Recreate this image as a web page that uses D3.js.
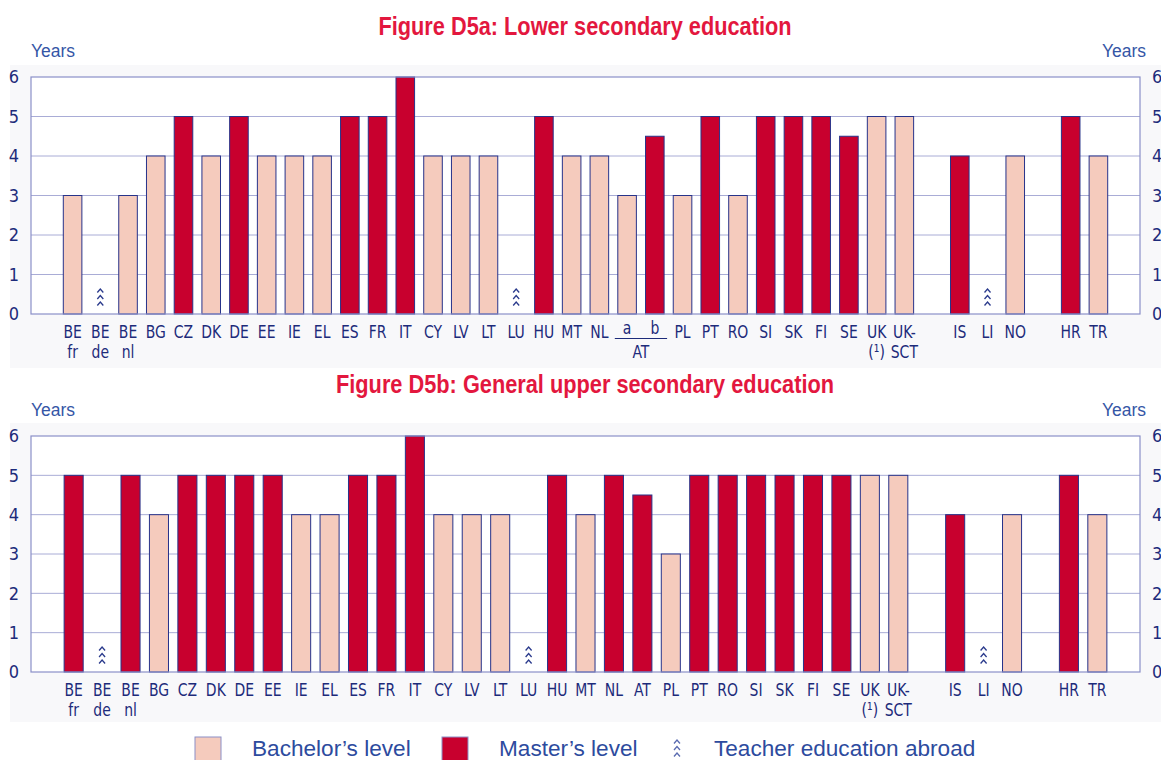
<!DOCTYPE html>
<html>
<head>
<meta charset="utf-8">
<script src="https://cdn.jsdelivr.net/npm/d3@7"></script>
<style>
  html, body { margin: 0; padding: 0; background: #ffffff; }
  svg { display: block; }
</style>
</head>
<body>
<svg id="chart" width="1161" height="760"></svg>
<script>
// ---- Data -------------------------------------------------------------
// Labels: "|" splits a label into two lines; "" marks an empty spacer slot.
// Level codes: B = Bachelor's level, M = Master's level, X = teacher education abroad.

const categoriesLower = ["BE|fr","BE|de","BE|nl","BG","CZ","DK","DE","EE","IE","EL","ES","FR","IT",
  "CY","LV","LT","LU","HU","MT","NL","a","b","PL","PT","RO","SI","SK","FI","SE","UK|(¹)","UK-|SCT",
  "","IS","LI","NO","","HR","TR"];
const yearsLower = [3,null,3,4,5,4,5,4,4,4,5,5,6,
  4,4,4,null,5,4,4,3,4.5,3,5,3,5,5,5,4.5,5,5,
  null,4,null,4,null,5,4];
const levelLower = ["B","X","B","B","M","B","M","B","B","B","M","M","M",
  "B","B","B","X","M","B","B","B","M","B","M","B","M","M","M","M","B","B",
  "","M","X","B","","M","B"];

const categoriesUpper = ["BE|fr","BE|de","BE|nl","BG","CZ","DK","DE","EE","IE","EL","ES","FR","IT",
  "CY","LV","LT","LU","HU","MT","NL","AT","PL","PT","RO","SI","SK","FI","SE","UK|(¹)","UK-|SCT",
  "","IS","LI","NO","","HR","TR"];
const yearsUpper = [5,null,5,4,5,5,5,5,4,4,5,5,6,
  4,4,4,null,5,4,5,4.5,3,5,5,5,5,5,5,5,5,
  null,4,null,4,null,5,4];
const levelUpper = ["M","X","M","B","M","M","M","M","B","B","M","M","M",
  "B","B","B","X","M","B","M","M","B","M","M","M","M","M","M","B","B",
  "","M","X","B","","M","B"];

const yTicks = [0,1,2,3,4,5,6];
const titles = ["Figure D5a: Lower secondary education", "Figure D5b: General upper secondary education"];
const legendItems = [
  {key: "B", label: "Bachelor\u2019s level"},
  {key: "M", label: "Master\u2019s level"},
  {key: "X", label: "Teacher education abroad"}
];

// ---- Style ------------------------------------------------------------
const colour = { B: "#f5cbbd", M: "#c8002e" };
const barStroke = "#27338a";
const frameStroke = "#8b90c8";
const gridStroke = "#a9acd6";
const labelFill = "#1d2b7a";
const yearsFill = "#3556a6";
const titleFill = "#e3173e";
const condensed = "'DejaVu Sans Condensed', 'DejaVu Sans', sans-serif";
const sans = "'Liberation Sans', Arial, sans-serif";
const squeeze = 0.84;   // horizontal compression for the narrow label face

const svg = d3.select("#chart");

// Three stacked carets marking teacher education abroad
function chevrons(g, cx, top, col) {
  for (let k = 0; k < 3; k++) {
    const y = top + k * 6.5;
    g.append("path")
      .attr("d", `M${cx - 3},${y + 3.5} L${cx},${y} L${cx + 3},${y + 3.5}`)
      .attr("fill", "none")
      .attr("stroke", col)
      .attr("stroke-width", 1.3);
  }
}

function narrowText(parent, cx, y, str) {
  return parent.append("text")
    .attr("transform", `translate(${cx},${y}) scale(${squeeze},1)`)
    .text(str);
}

function drawPanel(cfg) {
  const {categories, years, levels, title, titleWidth, plotTop, plotBottom, panelTop, panelBottom, titleY} = cfg;
  const left = 31, right = 1140;
  const g = svg.append("g");

  // light backdrop behind each figure
  g.append("rect")
    .attr("x", 10).attr("y", panelTop)
    .attr("width", 1151).attr("height", panelBottom - panelTop)
    .attr("fill", "#f8f8fa");

  g.append("text")
    .attr("x", 585 - titleWidth / 2).attr("y", titleY)
    .attr("font-family", sans)
    .attr("font-weight", "bold")
    .attr("font-size", 25)
    .attr("textLength", titleWidth)
    .attr("lengthAdjust", "spacingAndGlyphs")
    .attr("fill", titleFill)
    .text(title);

  const keys = d3.range(-1, categories.length + 1);
  const x = d3.scaleBand().domain(keys).range([left, right])
    .paddingInner(0.33).paddingOuter(0.165);
  const y = d3.scaleLinear().domain([0, 6]).range([plotBottom, plotTop]);

  g.append("rect")
    .attr("x", left).attr("y", plotTop)
    .attr("width", right - left).attr("height", plotBottom - plotTop)
    .attr("fill", "#ffffff");

  // horizontal gridlines
  g.append("g").selectAll("line")
    .data(yTicks.filter(t => t > 0 && t < 6))
    .join("line")
    .attr("x1", left).attr("x2", right)
    .attr("y1", d => y(d)).attr("y2", d => y(d))
    .attr("stroke", gridStroke).attr("stroke-width", 1);

  // bars
  const idx = d3.range(categories.length).filter(i => years[i] != null);
  g.append("g").selectAll("rect")
    .data(idx)
    .join("rect")
    .attr("x", i => x(i))
    .attr("width", x.bandwidth())
    .attr("y", i => y(years[i]))
    .attr("height", i => y(0) - y(years[i]))
    .attr("fill", i => colour[levels[i]])
    .attr("stroke", barStroke)
    .attr("stroke-width", 1);

  // abroad markers
  d3.range(categories.length).filter(i => levels[i] === "X").forEach(i => {
    chevrons(g, x(i) + x.bandwidth() / 2, plotBottom - 25, "#2a3a8c");
  });

  // frame
  g.append("rect")
    .attr("x", left).attr("y", plotTop)
    .attr("width", right - left).attr("height", plotBottom - plotTop)
    .attr("fill", "none")
    .attr("stroke", frameStroke).attr("stroke-width", 1.2);

  // value axes on both sides
  const axL = g.append("g").attr("transform", `translate(${left},0)`)
    .call(d3.axisLeft(y).tickValues(yTicks).tickSize(0).tickPadding(12).tickFormat(d3.format("d")));
  const axR = g.append("g").attr("transform", `translate(${right},0)`)
    .call(d3.axisRight(y).tickValues(yTicks).tickSize(0).tickPadding(12).tickFormat(d3.format("d")));
  [axL, axR].forEach(ax => {
    ax.select(".domain").remove();
    ax.selectAll("text")
      .attr("font-family", condensed)
      .attr("font-size", 18)
      .attr("fill", labelFill);
  });

  g.append("text").attr("x", 31).attr("y", plotTop - 20)
    .attr("font-family", sans).attr("font-size", 17.5).attr("fill", yearsFill).text("Years");
  g.append("text").attr("x", 1146).attr("y", plotTop - 20).attr("text-anchor", "end")
    .attr("font-family", sans).attr("font-size", 17.5).attr("fill", yearsFill).text("Years");

  // category labels
  const lab = g.append("g")
    .attr("font-family", condensed)
    .attr("font-size", 18.5)
    .attr("fill", labelFill)
    .attr("text-anchor", "middle");
  const ia = categories.indexOf("a"), ib = categories.indexOf("b");
  categories.forEach((c, i) => {
    if (!c) return;
    const cx = x(i) + x.bandwidth() / 2;
    const lift = (i === ia || i === ib) ? 4 : 0;   // sub-labels sit above the bracket
    c.split("|").forEach((line, j) => {
      narrowText(lab, cx, plotBottom + 24 - lift + j * 20, line);
    });
  });

  // sub-group bracket for AT a / b
  if (ia >= 0 && ib >= 0) {
    const x0 = x(ia) - 3, x1 = x(ib) + x.bandwidth() + 3;
    g.append("line")
      .attr("x1", x0).attr("x2", x1)
      .attr("y1", plotBottom + 24.5).attr("y2", plotBottom + 24.5)
      .attr("stroke", labelFill).attr("stroke-width", 1);
    narrowText(lab, (x0 + x1) / 2, plotBottom + 44, "AT");
  }
}

drawPanel({
  categories: categoriesLower, years: yearsLower, levels: levelLower, title: titles[0], titleWidth: 413,
  plotTop: 77, plotBottom: 314, panelTop: 65, panelBottom: 368, titleY: 35
});
drawPanel({
  categories: categoriesUpper, years: yearsUpper, levels: levelUpper, title: titles[1], titleWidth: 498,
  plotTop: 436, plotBottom: 672, panelTop: 423, panelBottom: 722, titleY: 393
});

// ---- Legend -----------------------------------------------------------
const legend = svg.append("g");
const legendX = [195, 442, 672];
legendItems.forEach((item, k) => {
  const lx = legendX[k];
  if (item.key === "X") {
    chevrons(legend, lx + 5, 740, "#5a6bb0");
  } else {
    legend.append("rect")
      .attr("x", lx).attr("y", 737).attr("width", 26).attr("height", 30)
      .attr("fill", colour[item.key])
      .attr("stroke", "#8b90c8").attr("stroke-width", 1);
  }
  legend.append("text")
    .attr("x", k === 2 ? 714 : lx + 57)
    .attr("y", 756)
    .attr("font-family", sans)
    .attr("font-size", 22.6)
    .attr("fill", "#2d4b9e")
    .text(item.label);
});
</script>
</body>
</html>
